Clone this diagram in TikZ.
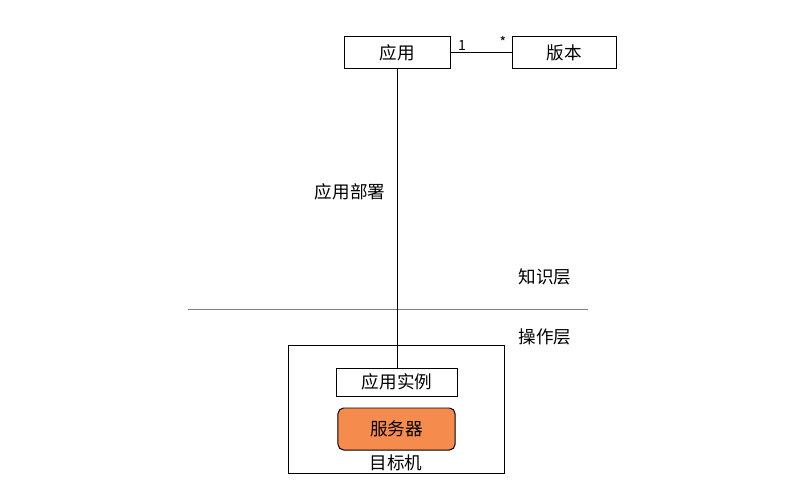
\documentclass[tikz,border=0pt]{standalone}
\usepackage{fontspec}
\setmainfont{Noto Sans CJK SC}
\usepackage{xcolor}
\usetikzlibrary{positioning}
\definecolor{serverorange}{HTML}{F68B4E}
\tikzset{
classbox/.style={draw, line width=0.7pt, minimum width=2.65cm, minimum height=0.78cm, font=\fontsize{12.5}{14}\selectfont},
label/.style={font=\fontsize{12.5}{14}\selectfont},
mult/.style={font=\fontsize{10}{12}\selectfont},
}
\begin{document}
\begin{tikzpicture}[x=0.025cm, y=-0.025cm]
\useasboundingbox (0,0) rectangle (800,500);
\node[classbox] (app) at (397,52.5) {应用};
\node[classbox, minimum width=2.6cm] (ver) at (564,52.5) {版本};
\node[mult] (one) at (462,45) {1};
\node[mult] (star) at (503,42) {*};
\node[label] (deploy) at (350,192) {应用部署};
\node[label] (know) at (545,277) {知识层};
\node[label] (oper) at (545,337) {操作层};
\coordinate (sepL) at (188,309);
\coordinate (sepR) at (588,309);
\draw[gray, line width=0.7pt] (sepL) -- (sepR);
\node[draw, line width=0.7pt, minimum width=5.375cm, minimum height=3.175cm] (target) at (396.5,409.5) {};
\node[classbox, minimum width=3cm, minimum height=0.7cm] (inst) at (397,382) {应用实例};
\node[classbox, fill=serverorange, rounded corners=4pt, minimum width=2.925cm, minimum height=1.05cm] (server) at (396.5,429) {服务器};
\node[label] (tname) at (396,463) {目标机};
\draw[line width=0.7pt] (app) -- (ver);
\draw[line width=0.7pt] (app) -- (inst);
\end{tikzpicture}
\end{document}
